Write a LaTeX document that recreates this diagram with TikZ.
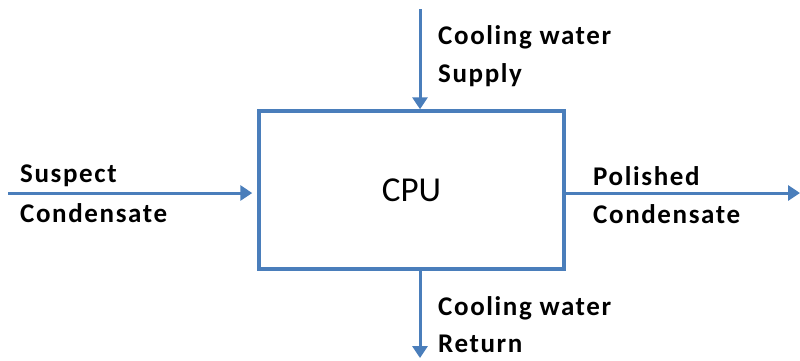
\documentclass[tikz,border=0pt]{standalone}
\usepackage{fontspec}
\setmainfont{Carlito}
\newfontfamily\lblfont{Carlito}[LetterSpace=6,BoldFont={* Bold}]
\usetikzlibrary{arrows.meta}
\definecolor{offblue}{RGB}{74,126,187}
\tikzset{
  proc/.style={draw=offblue, line width=3.5pt, minimum width=305pt, minimum height=158pt, inner sep=0pt, font=\fontsize{35}{40}\selectfont},
  flow/.style={draw=offblue, line width=3pt, -{Triangle[length=12pt,width=15pt]}},
  lbl/.style={anchor=base west, inner sep=0pt, font=\lblfont\bfseries\fontsize{27}{30}\selectfont}
}
\begin{document}
\begin{tikzpicture}[x=1pt,y=-1pt]
\useasboundingbox (0,0) rectangle (800,360);
\node[proc] (cpu) at (411.5,190) {CPU};
\coordinate (tin) at (420,9);
\coordinate (lin) at (8,193);
\coordinate (rout) at (800,193);
\coordinate (bout) at (420,358);
\draw[flow] (tin) -- (tin |- cpu.north);
\draw[flow, shorten >=5pt] (lin) -- (lin -| cpu.west);
\draw[flow] (rout -| cpu.east) -- (rout);
\draw[flow] (bout |- cpu.south) -- (bout);
\node[lbl] (t1) at (438,44) {Cooling water};
\node[lbl] (t2) at (438,82) {Supply};
\node[lbl] (l1) at (20,182) {Suspect};
\node[lbl] (l2) at (20,222) {Condensate};
\node[lbl] (r1) at (593,185) {Polished};
\node[lbl] (r2) at (593,223) {Condensate};
\node[lbl] (b1) at (438,315) {Cooling water};
\node[lbl] (b2) at (438,352) {Return};
\end{tikzpicture}
\end{document}
